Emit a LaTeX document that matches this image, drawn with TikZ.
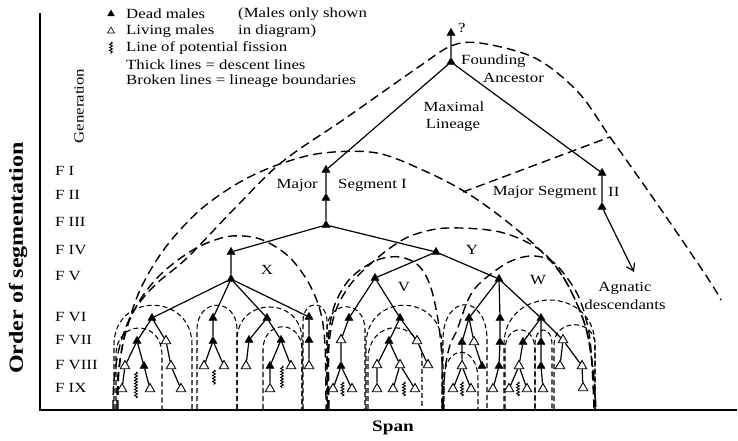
\documentclass[tikz,border=0pt]{standalone}
\usepackage{fontspec}
\setmainfont{Liberation Serif}[FakeStretch=1.2]
\usetikzlibrary{shapes.geometric,decorations.pathmorphing,arrows.meta}
\newcommand\myarch[4]{\draw[minb] (#1,409) -- (#1,#3) .. controls (#1,#4) and (#2,#4) .. (#2,#3) -- (#2,409);}
\begin{document}
\begin{tikzpicture}[x=1pt,y=-1pt,
  dead/.style={regular polygon, regular polygon sides=3, fill=black, draw=black, line width=0.3pt, minimum size=9.5pt, inner sep=0pt},
  live/.style={regular polygon, regular polygon sides=3, draw=black, fill=white, line width=0.9pt, minimum size=11pt, inner sep=0pt},
  desc/.style={line width=1.2pt},
  bound/.style={line width=1.4pt, dash pattern=on 9pt off 5pt},
  minb/.style={line width=1.05pt, dash pattern=on 5pt off 3pt},
  fis/.style={line width=0.9pt, decorate, decoration={snake, amplitude=1.4pt, segment length=3pt}},
  lbl/.style={font=\fontsize{14}{16}\selectfont, inner sep=0pt},
  flbl/.style={font=\fontsize{14}{16}\selectfont, inner sep=0pt, anchor=west},
  big/.style={font=\bfseries\fontsize{20}{24}\selectfont, inner sep=0pt}
]
\useasboundingbox (0,0) rectangle (738,441);
% axes
\draw[line width=1.4pt] (40,13) -- (40,410) -- (737,410);
\node[big, rotate=90] (oseg) at (18,258) {Order of segmentation};
\node[font=\bfseries\fontsize{16}{18}\selectfont, inner sep=0pt] (span) at (393,428) {Span};
\node[lbl, rotate=90] (gen) at (79,106) {Generation};
% generation labels
\node[flbl] (f1) at (55,171) {F I};
\node[flbl] (f2) at (55,195) {F II};
\node[flbl] (f3) at (55,222) {F III};
\node[flbl] (f4) at (55,250) {F IV};
\node[flbl] (f5) at (55,276) {F V};
\node[flbl] (f6) at (55,317) {F VI};
\node[flbl] (f7) at (55,340) {F VII};
\node[flbl] (f8) at (55,365) {F VIII};
\node[flbl] (f9) at (55,388) {F IX};
% legend
\node[dead, minimum size=8pt] (lgd) at (111,14) {};
\node[live, minimum size=8pt, line width=0.6pt] (lgl) at (111,31) {};
\draw[fis] (111,42) -- (111,54);
\node[lbl, anchor=west] (t1) at (126,14) {Dead males};
\node[lbl, anchor=west] (t2) at (238,14) {(Males only shown};
\node[lbl, anchor=west] (t3) at (126,31) {Living males};
\node[lbl, anchor=west] (t4) at (238,31) {in diagram)};
\node[lbl, anchor=west] (t5) at (126,48) {Line of potential fission};
\node[lbl, anchor=west] (t6) at (126,65) {Thick lines = descent lines};
\node[lbl, anchor=west] (t7) at (126,81) {Broken lines = lineage boundaries};
% ---------- big boundaries
\draw[bound] plot[smooth, tension=0.55] coordinates {(113,409) (114,380) (120,345) (133,312) (155,285) (187,258) (235,208) (282,162) (343,120) (380,94) (420,66) (451,46) (480,43) (535,58) (578,92) (610,137) (660,208) (707,277) (721,300)};
\draw[bound] plot[smooth, tension=0.55] coordinates {(117,409) (118,375) (125,335) (140,290) (165,248) (200,210) (240,182) (280,164) (323,153) (377,153) (427,172) (467,193) (505,220) (540,250) (565,280) (585,325) (593,370) (595,409)};
\draw[bound] (463,192) -- (610,137);
\draw[bound] plot[smooth, tension=0.55] coordinates {(118,409) (119,370) (126,330) (140,300) (160,275) (185,255) (207,243) (232,236) (260,239) (287,255) (307,280) (320,310) (325,345) (326,409)};
\draw[bound] plot[smooth, tension=0.55] coordinates {(329,409) (329,345) (336,310) (350,285) (367,267) (390,248) (413,235) (447,228) (500,232) (540,250) (565,280) (585,325) (593,370) (596,409)};
\draw[bound] plot[smooth, tension=0.55] coordinates {(328,409) (328,345) (333,310) (345,285) (360,270) (380,259) (400,257) (418,265) (430,285) (438,320) (442,360) (442,409)};
\draw[bound] plot[smooth, tension=0.55] coordinates {(443,409) (445,370) (450,345) (457,330) (468,300) (480,283) (507,263) (530,256) (550,260) (565,275) (580,300) (590,340) (594,409)};
% ---------- minimal boundaries
\myarch{114}{192}{345}{292}
\myarch{116}{162}{355}{319}
\myarch{197}{237}{330}{297}
\myarch{237}{302}{340}{296}
\myarch{263}{302}{350}{319}
\myarch{303}{327}{322}{299}
\myarch{327}{365}{330}{299}
\myarch{366}{442}{345}{292}
\myarch{368}{422}{360}{317}
\myarch{443}{487}{340}{293}
\myarch{444}{478}{380}{343}
\myarch{504}{595}{345}{285}
\myarch{505}{535}{350}{323}
\myarch{535}{552}{345}{325}
\myarch{554}{595}{345}{318}
% ---------- upper tree
\node[dead] (Q) at (451,33) {};
\node[lbl, anchor=west] (qm) at (458,28) {?};
\node[dead] (FA) at (451,62) {};
\node[lbl, anchor=west] (fnd) at (461,61) {Founding};
\node[lbl, anchor=west] (anc) at (483,78) {Ancestor};
\node[lbl] (maxl) at (454,107) {Maximal};
\node[lbl] (lin) at (453,125) {Lineage};
\node[dead] (S1a) at (326,170) {};
\node[dead] (S1b) at (326,198) {};
\node[dead] (S1c) at (326,225) {};
\node[lbl, anchor=east] (maj1) at (318,185) {Major};
\node[lbl, anchor=west] (seg1) at (338,185) {Segment I};
\node[dead] (S2a) at (602,173) {};
\node[dead] (S2b) at (602,207) {};
\node[lbl, anchor=east] (maj2) at (597,192) {Major Segment};
\node[lbl, anchor=west] (seg2) at (608,192) {II};
\coordinate (agn) at (634,272);
\node[lbl] (agn1) at (625,288) {Agnatic};
\node[lbl] (agn2) at (625,305) {descendants};
\node[dead] (X4) at (231,252) {};
\node[dead] (X5) at (231,279) {};
\node[dead] (Y) at (436,252) {};
\node[dead] (V) at (375,278) {};
\node[dead] (W) at (499,279) {};
\node[lbl] (lx) at (267,270) {X};
\node[lbl] (ly) at (472,250) {Y};
\node[lbl] (lv) at (404,287) {V};
\node[lbl] (lw) at (538,280) {W};
% ---------- X subtree
\node[dead] (A1) at (152,318) {};
\node[dead] (A2) at (213,318) {};
\node[dead] (A3) at (267,318) {};
\node[dead] (A4) at (309,317) {};
\node[dead] (B1) at (137,341) {};
\node[live] (B2) at (166,341) {};
\node[dead] (B3) at (213,341) {};
\node[dead] (B4) at (249,340) {};
\node[dead] (B5) at (281,340) {};
\node[dead] (B6) at (309,340) {};
\node[live] (C1) at (125,366) {};
\node[dead] (C2) at (144,366) {};
\node[live] (C3) at (171,366) {};
\node[live] (C4) at (204,366) {};
\node[live] (C5) at (224,366) {};
\node[live] (C6) at (246,366) {};
\node[dead] (C7) at (270,366) {};
\node[live] (C8) at (291,366) {};
\node[live] (C9) at (309,366) {};
\node[live] (D1) at (122,389) {};
\node[live] (D2) at (150,389) {};
\node[live] (D3) at (181,389) {};
\node[live] (D4) at (270,389) {};
% ---------- V subtree
\node[dead] (E1) at (349,318) {};
\node[dead] (E2) at (400,318) {};
\node[live] (G1) at (341,340) {};
\node[dead] (G2) at (389,341) {};
\node[live] (G3) at (417,341) {};
\node[dead] (H1) at (341,366) {};
\node[live] (H2) at (377,365) {};
\node[live] (H3) at (400,365) {};
\node[live] (H4) at (428,365) {};
\node[live] (I1) at (333,389) {};
\node[live] (I2) at (352,389) {};
\node[live] (I3) at (377,389) {};
\node[live] (I4) at (393,389) {};
\node[live] (I5) at (415,389) {};
% ---------- W subtree
\node[dead] (K1) at (469,318) {};
\node[dead] (K2) at (500,318) {};
\node[dead] (K3) at (541,318) {};
\node[dead] (L1) at (462,342) {};
\node[live] (L2) at (474,342) {};
\node[dead] (L3) at (500,342) {};
\node[dead] (L4) at (523,342) {};
\node[dead] (L5) at (541,342) {};
\node[live] (L6) at (563,340) {};
\node[live] (M1) at (462,366) {};
\node[dead] (M2) at (482,366) {};
\node[dead] (M3) at (499,366) {};
\node[live] (M4) at (519,366) {};
\node[dead] (M5) at (541,366) {};
\node[live] (M6) at (560,366) {};
\node[live] (M7) at (582,366) {};
\node[live] (N1) at (453,389) {};
\node[live] (N2) at (471,389) {};
\node[live] (N3) at (493,389) {};
\node[live] (N4) at (509,389) {};
\node[live] (N5) at (527,389) {};
\node[live] (N6) at (543,389) {};
\node[live] (N7) at (583,388) {};
% ---------- descent lines
\draw[desc] (Q) -- (FA) (FA) -- (S1a) (FA) -- (S2a) (S1a) -- (S1b) (S1b) -- (S1c)
  (S1c) -- (X4) (S1c) -- (Y) (X4) -- (X5) (Y) -- (V) (Y) -- (W) (S2a) -- (S2b);
\draw[desc, -{Straight Barb[length=7pt,width=9pt]}] (S2b) -- (agn);
\draw[desc] (X5) -- (A1) (X5) -- (A2) (X5) -- (A3) (X5) -- (A4)
  (A1) -- (B1) (A1) -- (B2) (A2) -- (B3) (A3) -- (B4) (A3) -- (B5) (A4) -- (B6)
  (B1) -- (C1) (B1) -- (C2) (B2) -- (C3) (B3) -- (C4) (B3) -- (C5) (B4) -- (C6)
  (B5) -- (C7) (B5) -- (C8) (B6) -- (C9)
  (C1) -- (D1) (C2) -- (D2) (C3) -- (D3) (C7) -- (D4);
\draw[desc] (V) -- (E1) (V) -- (E2) (E1) -- (G1) (E2) -- (G2) (E2) -- (G3)
  (G1) -- (H1) (G2) -- (H2) (G2) -- (H3) (G3) -- (H4)
  (H1) -- (I1) (H1) -- (I2) (H2) -- (I3) (H3) -- (I4) (H3) -- (I5);
\draw[desc] (W) -- (K1) (W) -- (K2) (W) -- (K3)
  (K1) -- (L1) (K1) -- (L2) (K2) -- (L3) (K3) -- (L4) (K3) -- (L5) (K3) -- (L6)
  (L1) -- (M1) (L2) -- (M2) (L3) -- (M3) (L4) -- (M4) (L5) -- (M5) (L6) -- (M6) (L6) -- (M7)
  (M1) -- (N1) (M1) -- (N2) (M3) -- (N3) (M4) -- (N4) (M4) -- (N5) (M5) -- (N6) (M7) -- (N7);
% ---------- potential fission
\draw[fis] (136,372) -- (136,398);
\draw[fis] (214,370) -- (214,385);
\draw[fis] (282,366) -- (282,388);
\draw[fis] (342.5,382) -- (342.5,396);
\draw[fis] (404,382) -- (404,396);
\draw[fis] (462,382) -- (462,396);
\draw[fis] (518,382) -- (518,396);
\end{tikzpicture}
\end{document}
